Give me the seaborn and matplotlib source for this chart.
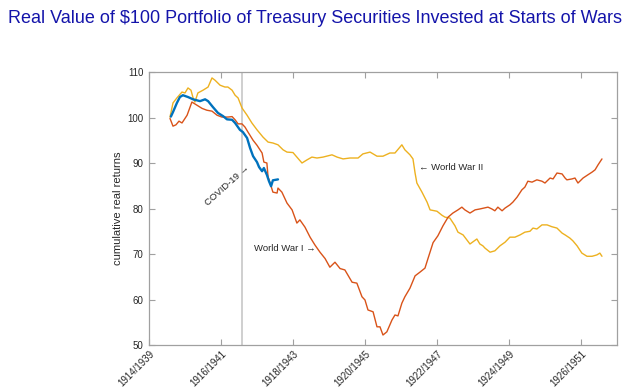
import pandas as pd
import seaborn as sns
import matplotlib.pyplot as plt
from matplotlib.transforms import ScaledTranslation

# --- data (x = months since Jan of start year) ---
ww1_month = [7, 8, 9, 10, 11, 12.7, 14.3, 16, 17.7, 19.3, 21, 22.7, 24.3, 26.3, 27.7,
             28.7, 29.7, 31, 32, 33, 34.7, 36, 37.7, 38.3, 39.3, 39.7, 40.3, 41.3, 42.7,
             43, 44.3, 46, 47.7, 49.3, 50.3, 52, 53.7, 55.3, 57, 58.7, 60.3, 62, 63.7,
             65.3, 67.7, 69.3, 71, 72, 73, 74.7, 76, 77, 78, 79.3, 81, 82, 83, 84.3,
             85.3, 87, 88.7, 90.3, 92, 93, 94.7, 96.3, 98, 99.7, 101.3, 103, 104.3,
             105.3, 107, 108.7, 110.3, 113, 114.3, 115.3, 116.3, 117.7, 118.7, 120.3,
             121.3, 122.7, 124.3, 125.3, 126.3, 127.7, 129.3, 131, 132, 133.7, 134.7,
             136, 137.7, 138.7, 139.3, 141, 142, 143, 144.7, 146.3, 147.7, 148.7,
             149.7, 151]
ww1_value = [99.8, 98.1, 98.4, 99.2, 98.8, 100.5, 103.4, 102.7, 102.0, 101.6, 101.4,
             100.5, 100.1, 100.1, 100.2, 99.5, 98.6, 98.6, 97.9, 96.8, 95.0, 93.9, 92.2,
             90.2, 90.0, 86.9, 85.8, 83.6, 83.4, 84.5, 83.6, 81.2, 79.7, 76.8, 77.5,
             75.9, 73.7, 72.0, 70.4, 69.0, 67.1, 68.2, 66.8, 66.5, 63.8, 63.6, 60.6,
             59.9, 57.7, 57.3, 54.0, 54.0, 52.2, 52.9, 55.5, 56.6, 56.4, 59.2, 60.6,
             62.5, 65.2, 66.0, 66.9, 69.0, 72.5, 74.0, 76.2, 78.1, 79.0, 79.7, 80.3,
             79.7, 79.0, 79.7, 79.9, 80.3, 79.9, 79.5, 80.3, 79.5, 80.1, 80.8, 81.4,
             82.5, 84.1, 84.7, 86.0, 85.8, 86.3, 86.0, 85.6, 86.7, 86.5, 87.8, 87.6,
             86.7, 86.3, 86.5, 86.7, 85.6, 86.7, 87.4, 88.0, 88.5, 89.6, 90.9]

ww2_month = [7, 8, 9.3, 11, 12, 13, 14, 14.7, 15.3, 16.3, 18, 19.7, 21, 22, 23.7, 25.3,
             26.3, 27.7, 28.7, 29.7, 31, 32.7, 34.3, 36, 38, 39.7, 41.3, 43, 44.7, 46,
             48, 49.3, 51, 52.7, 54.3, 56, 58, 61, 62.7, 64.7, 67, 69.7, 71.3, 73.7, 76,
             78, 80.3, 82, 84.3, 85.3, 87, 88, 88.7, 89.3, 91, 92.7, 93.7, 96, 97.7, 98.7,
             100.3, 102, 103, 104.7, 107, 109.3, 110.3, 111.3, 112, 113.7, 115.3, 117,
             118.7, 120.3, 122, 123.7, 125.3, 127, 128, 129.3, 131, 132.7, 134.3, 136,
             137.7, 138.7, 140.3, 141.3, 142.7, 144.3, 146, 147.7, 149.3, 150.3, 151]
ww2_value = [100.1, 103.2, 104.3, 105.6, 105.4, 106.5, 106.0, 104.3, 103.4, 105.4,
             106.0, 106.7, 108.7, 108.2, 107.1, 106.7, 106.7, 106.0, 104.9, 104.3,
             102.1, 100.5, 98.8, 97.3, 95.7, 94.6, 94.4, 94.0, 92.9, 92.4, 92.3, 91.3,
             90.0, 90.7, 91.3, 91.1, 91.3, 91.8, 91.3, 90.9, 91.1, 91.1, 92.0, 92.4,
             91.5, 91.5, 92.2, 92.2, 94.0, 92.9, 91.8, 90.9, 87.8, 85.6, 83.6, 81.4,
             79.7, 79.4, 78.5, 78.1, 77.9, 76.2, 74.8, 74.2, 72.2, 73.3, 72.2, 71.8,
             71.3, 70.4, 70.7, 71.8, 72.6, 73.7, 73.7, 74.2, 74.8, 75.0, 75.7, 75.5,
             76.4, 76.4, 76.0, 75.7, 74.6, 74.2, 73.5, 72.9, 71.8, 70.2, 69.5, 69.5,
             69.8, 70.2, 69.5]

covid_month = [7.3, 8, 9.3, 10.3, 11.3, 13, 14.7, 17, 18.7, 19.7, 21.3, 23, 24.7, 26,
               27.7, 28.7, 30.3, 31.3, 32.7, 33.7, 34.7, 36, 36.7, 37.7, 38.3, 39.3,
               40, 40.7, 41.3, 43]
covid_value = [100.2, 101.2, 103.2, 104.5, 104.9, 104.5, 104.0, 103.6, 104.0, 103.6,
               102.3, 101.0, 100.3, 99.6, 99.5, 98.8, 97.3, 96.8, 95.5, 93.3, 91.5,
               90.2, 89.1, 88.2, 88.9, 87.4, 86.0, 84.9, 86.2, 86.4]

tick_months = [0, 24, 48, 72, 96, 120, 144]
tick_labels = ['1914/1939', '1916/1941', '1918/1943', '1920/1945',
               '1922/1947', '1924/1949', '1926/1951']
covid_marker_month = 31

df = pd.concat([
    pd.DataFrame({'month': ww1_month, 'value': ww1_value, 'war': 'World War I'}),
    pd.DataFrame({'month': ww2_month, 'value': ww2_value, 'war': 'World War II'}),
    pd.DataFrame({'month': covid_month, 'value': covid_value, 'war': 'COVID-19'}),
])

sns.set_style("ticks")
plt.rcParams['font.family'] = ['Liberation Sans', 'DejaVu Sans']

fig = plt.figure(figsize=(6.4, 3.88), dpi=100)
ax = fig.add_axes([0.2328, 0.1108, 0.7312, 0.7036])

ax.axvline(covid_marker_month, color='#cccccc', lw=1.3, zorder=1)

palette = {'World War I': '#D95319', 'World War II': '#EDB120', 'COVID-19': '#0072BD'}
sizes = {'World War I': 1.0, 'World War II': 1.0, 'COVID-19': 1.7}
sns.lineplot(data=df, x='month', y='value', hue='war', size='war', sizes=sizes,
             palette=palette, hue_order=['World War II', 'World War I', 'COVID-19'],
             sort=False, estimator=None, legend=False, ax=ax)

ax.set_xlim(0, 156)
ax.set_ylim(50, 110)
ax.set_xticks(tick_months)
ax.set_xticklabels(tick_labels, rotation=45, ha='right', va='center',
                   rotation_mode='anchor')
ax.set_yticks(range(50, 111, 10))
ax.set_xlabel('')
ax.set_ylabel('cumulative real returns', fontsize=8, color='#262626', labelpad=3)

for side in ['top', 'right', 'left', 'bottom']:
    ax.spines[side].set_visible(True)
    ax.spines[side].set_color('#a0a0a0')
    ax.spines[side].set_linewidth(0.9)
ax.tick_params(direction='in', length=4, width=0.8, color='#a0a0a0',
               labelsize=7, labelcolor='#262626', top=True, right=True)
ax.tick_params(axis='x', pad=5)
ax.tick_params(axis='y', pad=4)

# nudge rotated date labels a little to the right, like the original
shift = ScaledTranslation(4 / 100, 0, fig.dpi_scale_trans)
for lbl in ax.get_xticklabels():
    lbl.set_transform(lbl.get_transform() + shift)

ax.text(26, 85, 'COVID-19 \u2192', rotation=42, ha='center', va='center',
        fontsize=6.8, color='#262626')
ax.text(55.5, 71.3, 'World War I \u2192', ha='right', va='center',
        fontsize=6.8, color='#262626')
ax.text(90, 89.1, '\u2190 World War II', ha='left', va='center',
        fontsize=6.8, color='#262626')

fig.text(0.012, 0.952, 'Real Value of $100 Portfolio of Treasury Securities Invested at Starts of Wars',
         ha='left', va='center', fontsize=13, color='#1414aa')

plt.savefig('out.png', dpi=100)
